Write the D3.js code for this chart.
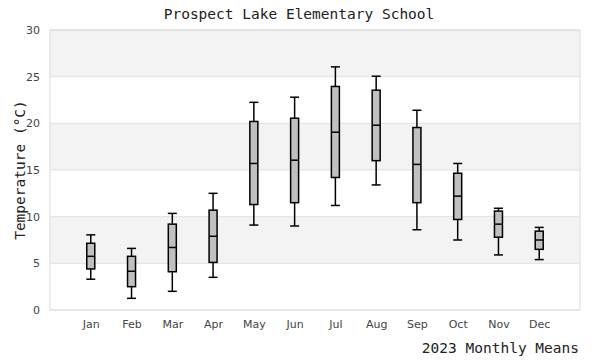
<!DOCTYPE html>
<html><head><meta charset="utf-8">
<script src="https://cdn.jsdelivr.net/npm/d3@7"></script>
<style>body{margin:0;background:#fff}</style>
</head><body>
<svg id="c" width="600" height="360"></svg>
<script>
const months = ["Jan","Feb","Mar","Apr","May","Jun","Jul","Aug","Sep","Oct","Nov","Dec"];
const whiskerLow  = [3.3, 1.25, 2.0, 3.5, 9.1, 9.0, 11.2, 13.4, 8.6, 7.5, 5.9, 5.4];
const q1          = [4.4, 2.5, 4.1, 5.1, 11.3, 11.5, 14.2, 16.0, 11.5, 9.7, 7.8, 6.5];
const median      = [5.75, 4.15, 6.7, 7.9, 15.7, 16.05, 19.05, 19.8, 15.6, 12.2, 9.2, 7.5];
const q3          = [7.15, 5.75, 9.2, 10.7, 20.2, 20.55, 23.95, 23.55, 19.55, 14.65, 10.6, 8.45];
const whiskerHigh = [8.05, 6.6, 10.35, 12.5, 22.25, 22.8, 26.05, 25.05, 21.4, 15.7, 10.9, 8.85];
const yTicks = [0, 5, 10, 15, 20, 25, 30];
const title = "Prospect Lake Elementary School";
const xTitle = "2023 Monthly Means";
const yTitle = "Temperature (°C)";

const data = months.map((m, i) => ({m, lo: whiskerLow[i], q1: q1[i], med: median[i], q3: q3[i], hi: whiskerHigh[i]}));

const svg = d3.select("#c");
const L = 50, R = 580, T = 30, B = 310;
const mono = "'DejaVu Sans Mono', monospace";
const sans = "'DejaVu Sans', sans-serif";

const x = d3.scalePoint().domain(months).range([L, R]).padding(1);
const y = d3.scaleLinear().domain([0, 30]).range([B, T]);

// alternating bands
const bands = d3.pairs(yTicks).filter((d, i) => i % 2 === 1);
svg.append("g").selectAll("rect").data(bands).join("rect")
  .attr("x", L).attr("width", R - L)
  .attr("y", d => y(d[1])).attr("height", d => y(d[0]) - y(d[1]))
  .attr("fill", "#f3f3f3");

// grid lines
svg.append("g").selectAll("line").data(yTicks).join("line")
  .attr("x1", L).attr("x2", R).attr("y1", d => y(d)).attr("y2", d => y(d))
  .attr("stroke", "#e0e0e0").attr("stroke-width", 1);

// border
svg.append("rect").attr("x", L).attr("y", T).attr("width", R - L).attr("height", B - T)
  .attr("fill", "none").attr("stroke", "#dcdcdc").attr("stroke-width", 1);

// y axis
const yAxis = d3.axisLeft(y).tickValues(yTicks).tickSize(0).tickPadding(10);
const gy = svg.append("g").attr("transform", `translate(${L},0)`).call(yAxis);
gy.select(".domain").remove();
gy.selectAll("text").attr("font-family", sans).attr("font-size", 11).attr("fill", "#444");

// x axis
const xAxis = d3.axisBottom(x).tickSize(0).tickPadding(10);
const gx = svg.append("g").attr("transform", `translate(0,${B})`).call(xAxis);
gx.select(".domain").remove();
gx.selectAll("text").attr("font-family", sans).attr("font-size", 11).attr("fill", "#444");

// boxes
const bw = 8, cw = 9;
const g = svg.append("g").selectAll("g").data(data).join("g");
g.append("line").attr("x1", d => x(d.m)).attr("x2", d => x(d.m))
  .attr("y1", d => y(d.hi)).attr("y2", d => y(d.lo)).attr("stroke", "#000").attr("stroke-width", 1.5);
g.append("line").attr("x1", d => x(d.m) - cw/2).attr("x2", d => x(d.m) + cw/2)
  .attr("y1", d => y(d.hi)).attr("y2", d => y(d.hi)).attr("stroke", "#000").attr("stroke-width", 1.5);
g.append("line").attr("x1", d => x(d.m) - cw/2).attr("x2", d => x(d.m) + cw/2)
  .attr("y1", d => y(d.lo)).attr("y2", d => y(d.lo)).attr("stroke", "#000").attr("stroke-width", 1.5);
g.append("rect").attr("x", d => x(d.m) - bw/2).attr("width", bw)
  .attr("y", d => y(d.q3)).attr("height", d => y(d.q1) - y(d.q3))
  .attr("fill", "#c0c0c0").attr("stroke", "#000").attr("stroke-width", 1.5);
g.append("line").attr("x1", d => x(d.m) - bw/2).attr("x2", d => x(d.m) + bw/2)
  .attr("y1", d => y(d.med)).attr("y2", d => y(d.med)).attr("stroke", "#000").attr("stroke-width", 1.5);

// titles
svg.append("text").attr("x", 299).attr("y", 19).attr("text-anchor", "middle")
  .attr("font-family", mono).attr("font-size", 14.5).attr("fill", "#222").text(title);
svg.append("text").attr("x", 579).attr("y", 353).attr("text-anchor", "end")
  .attr("font-family", mono).attr("font-size", 14.5).attr("fill", "#222").text(xTitle);
svg.append("text").attr("transform", `translate(25,${(T + B) / 2}) rotate(-90)`).attr("text-anchor", "middle")
  .attr("font-family", mono).attr("font-size", 14.5).attr("fill", "#222").text(yTitle);
</script>
</body></html>
